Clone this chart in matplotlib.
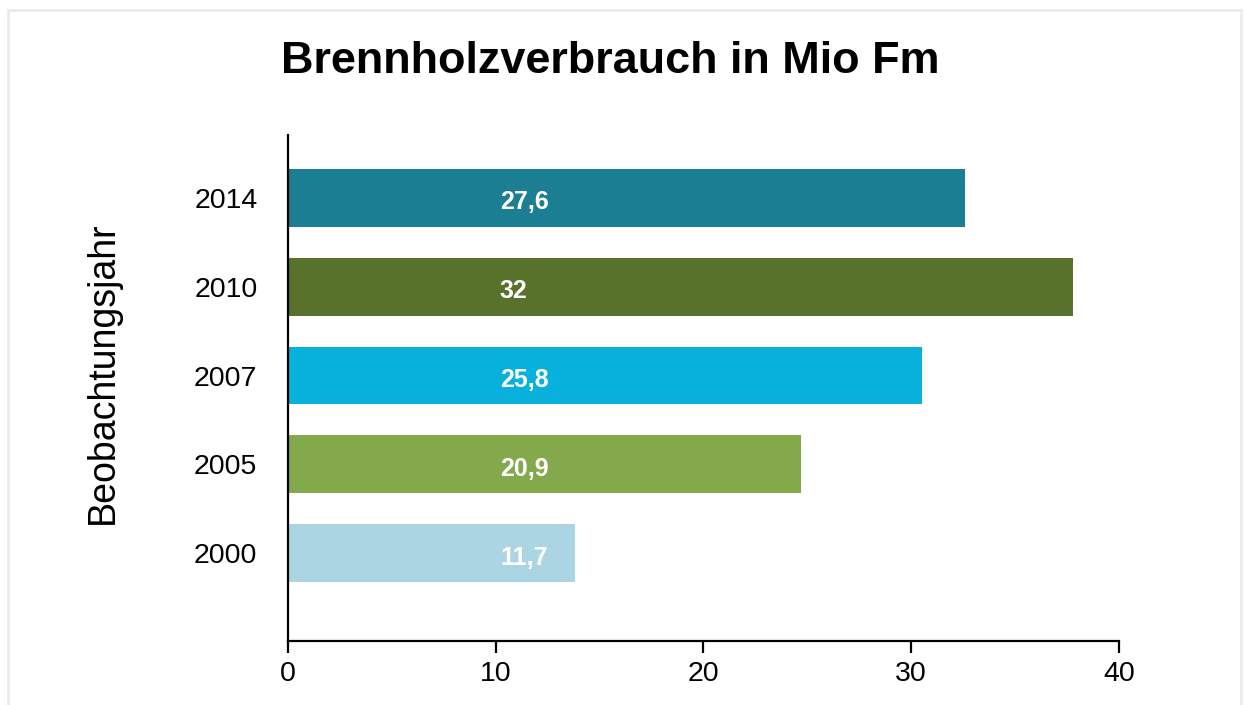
import matplotlib.pyplot as plt
from matplotlib.patches import Rectangle

plt.rcParams['font.family'] = ['Liberation Sans', 'DejaVu Sans']

# data (bottom to top)
years = ["2000", "2005", "2007", "2010", "2014"]
bar_lengths = [13.8, 24.7, 30.5, 37.8, 32.6]
value_labels = ["11,7", "20,9", "25,8", "32", "27,6"]
colors = ["#acd5e4", "#84a84c", "#07b1dc", "#58722c", "#1b7e93"]
x_ticks = [0, 10, 20, 30, 40]

fig = plt.figure(figsize=(12.46, 7.05), dpi=100)
ax = fig.add_axes([0.2311, 0.0908, 0.667, 0.7177])

pos = list(range(len(years)))
ax.barh(pos, bar_lengths, height=0.65, color=colors)

for p, lab in zip(pos, value_labels):
    ax.text(10.2, p - 0.05, lab, color="white", fontsize=18, fontweight="bold",
            ha="left", va="center")

ax.set_xlim(0, 40)
ax.set_ylim(-0.99, 4.71)
ax.set_xticks(x_ticks)
ax.set_yticks(pos)
ax.set_yticklabels(years)
ax.tick_params(axis="x", length=8.6, width=1.6, labelsize=20.5, pad=6)
ax.tick_params(axis="y", length=0, labelsize=20.5, pad=22)

for s in ["top", "right"]:
    ax.spines[s].set_visible(False)
for s in ["left", "bottom"]:
    ax.spines[s].set_linewidth(1.6)

fig.text(103 / 1246, 1 - 373 / 705, "Beobachtungsjahr", rotation=90,
         fontsize=27, ha="center", va="center")
fig.text(610 / 1246, 1 - 73 / 705, "Brennholzverbrauch in Mio Fm",
         fontsize=32.4, fontweight="bold", ha="center", va="baseline")

# light frame around the chart
fig.patches.append(Rectangle((8 / 1246, -0.05), 1233 / 1246, 1.05 - 10 / 705,
                             transform=fig.transFigure, fill=False,
                             edgecolor="#ebebeb", linewidth=2))

fig.savefig("out.png", dpi=100)
